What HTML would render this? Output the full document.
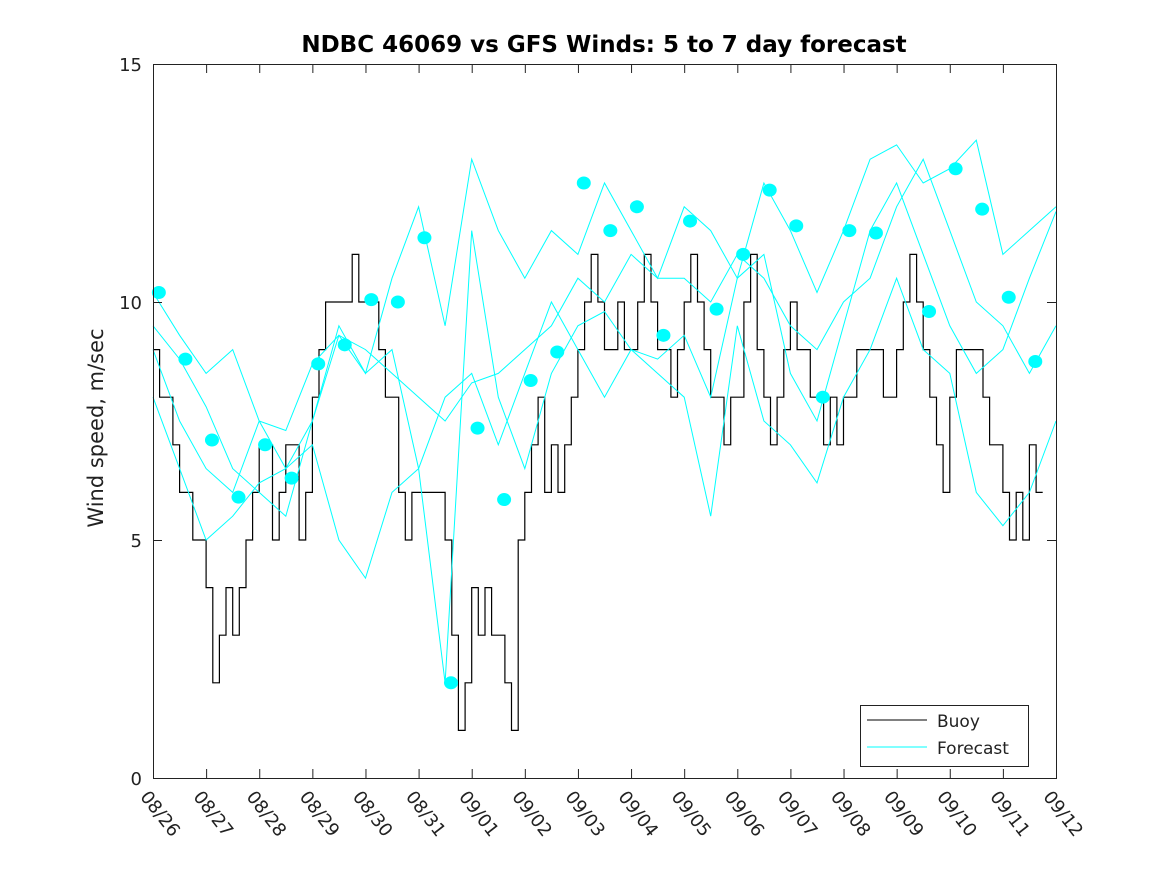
<!DOCTYPE html>
<html><head><meta charset="utf-8">
<style>
html,body{margin:0;padding:0;background:#fff;}
svg{display:block;font-family:"DejaVu Sans","Liberation Sans",sans-serif;}
</style></head>
<body>
<svg id="chart" width="1167" height="875" viewBox="0 0 1167 875">
<rect x="0" y="0" width="1167" height="875" fill="#fff"/>
<text x="604" y="52" text-anchor="middle" font-size="23" font-weight="bold" fill="#000">NDBC 46069 vs GFS Winds: 5 to 7 day forecast</text>
<text transform="translate(103,428) rotate(-90)" text-anchor="middle" font-size="21" fill="#222">Wind speed, m/sec</text>
<g id="plot"></g>
<rect x="153.5" y="64.5" width="903" height="714" fill="none" stroke="#222" stroke-width="1"/>
<g id="axes"></g>
<g>
<rect x="860.5" y="705.5" width="168" height="61" fill="#fff" stroke="#222"/>
<line x1="867" y1="720" x2="927" y2="720" stroke="#000"/>
<text x="937" y="727" font-size="17" fill="#222">Buoy</text>
<line x1="867" y1="747" x2="927" y2="747" stroke="#00ffff"/>
<text x="937" y="754" font-size="17" fill="#222">Forecast</text>
</g>
</svg>
<script>
const dateLabels=["08/26","08/27","08/28","08/29","08/30","08/31","09/01","09/02","09/03","09/04","09/05","09/06","09/07","09/08","09/09","09/10","09/11","09/12"];
const yTicks=[0,5,10,15];
// buoy, 3-hourly from 08/26 00:00
const buoy=[9,8,8,7,6,6,5,5, 4,2,3,4,3,4,5,6, 7,7,5,6,7,7,5,6, 8,9,10,10,10,10,11,10, 10,10,9,8,8,6,5,6,
 6,6,6,6,5,3,1,2, 4,3,4,3,3,2,1,5, 6,7,8,6,7,6,7,8, 9,10,11,10,9,9,10,9, 9,10,11,10,9,9,8,9,
 10,11,10,9,8,8,7,8, 8,10,11,9,8,7,8,9, 10,9,9,8,8,7,8,7, 8,8,9,9,9,9,8,8, 9,10,11,10,9,8,7,6,
 8,9,9,9,9,8,7,7, 6,5,6,5,7,6];
// forecast series, 12-hourly
const fcA=[10.2,9.3,8.5,9.0,7.5,6.5,7.5,9.5,8.5,10.5,12.0,9.5,13.0,11.5,10.5,11.5,11.0,12.5,11.5,10.5,12.0,11.5,10.5,12.5,11.5,10.2,11.5,13.0,13.3,12.5,12.8,13.4,11.0,11.5,12.0];
const fcB=[9.5,8.8,7.8,6.5,6.0,5.5,7.5,9.3,9.0,8.5,8.0,7.5,8.3,8.5,9.0,9.5,10.5,10.0,11.0,10.5,10.5,10.0,11.0,10.5,9.5,9.0,10.0,10.5,12.0,13.0,11.5,10.0,9.5,8.5,9.5];
const fcC=[8.0,6.5,5.0,5.5,6.2,6.5,7.0,5.0,4.2,6.0,6.5,8.0,8.5,7.0,8.5,10.0,9.0,8.0,9.0,8.5,8.0,5.5,9.5,7.5,7.0,6.2,8.0,9.0,10.5,9.0,8.5,6.0,5.3,6.0,7.5];
const fcD=[9.0,7.5,6.5,6.0,7.5,7.3,8.7,9.3,8.5,9.0,6.5,2.0,11.5,8.0,6.5,8.5,9.5,9.8,9.0,8.8,9.3,8.0,10.5,11.0,8.5,7.5,9.5,11.5,12.5,11.0,9.5,8.5,9.0,10.5,11.9];
// forecast start markers, every 12h from 08/26 02:40
const dotVals=[10.2,8.8,7.1,5.9,7.0,6.3,8.7,9.1,10.05,10.0,11.35,2.0,7.35,5.85,8.35,8.95,12.5,11.5,12.0,9.3,11.7,9.85,11.0,12.35,11.6,8.0,11.5,11.45,null,9.8,12.8,11.95,10.1,8.75];

const X0=153,X1=1056,Y0=778,Y1=64;
const xs=d=>X0+(X1-X0)*d/17;
const ys=v=>Y0-(Y0-Y1)*v/15;
const NS="http://www.w3.org/2000/svg";
const plot=document.getElementById('plot'),axes=document.getElementById('axes');
function mk(t,a,p){const e=document.createElementNS(NS,t);for(const k in a)e.setAttribute(k,a[k]);p.appendChild(e);return e;}

let d="";
buoy.forEach((v,i)=>{const x=xs(i/8),y=ys(v);d+=(i?"H"+x.toFixed(1)+"V"+y.toFixed(1):"M"+x.toFixed(1)+" "+y.toFixed(1));});
d+="H"+xs(buoy.length/8).toFixed(1);
const bl=mk('path',{d:d,fill:'none',stroke:'#000','stroke-width':1.2},plot);



[fcA,fcB,fcC,fcD].forEach((s,si)=>{
 const pts=s.map((v,i)=>xs(i*0.5).toFixed(1)+","+ys(v).toFixed(1)).join(" ");
 const pl=mk('polyline',{points:pts,fill:'none',stroke:'#00ffff','stroke-width':1},plot);
 
 
});
dotVals.forEach((v,i)=>{
 if(v===null)return;
 const c=mk('ellipse',{cx:xs(0.11+i*0.5),cy:ys(v),rx:7,ry:6.5,fill:'#00ffff'},plot);
 
 
});

yTicks.forEach(v=>{
 const y=ys(v)+0.5;
 mk('line',{x1:X0,y1:y,x2:X0+9,y2:y,stroke:'#222'},axes);
 mk('line',{x1:X1-9,y1:y,x2:X1,y2:y,stroke:'#222'},axes);
 const t=mk('text',{x:142,y:ys(v)+7,'text-anchor':'end','font-size':18,fill:'#222'},axes);
 t.textContent=v;
 
 
});
dateLabels.forEach((lab,i)=>{
 const x=xs(i)+0.5;
 mk('line',{x1:x,y1:Y0,x2:x,y2:Y0-9,stroke:'#222'},axes);
 mk('line',{x1:x,y1:Y1,x2:x,y2:Y1+9,stroke:'#222'},axes);
 const t=mk('text',{transform:`translate(${x-14},${Y0+19}) rotate(52)`,'font-size':18,fill:'#222'},axes);
 t.textContent=lab;
 
 
});
</script>
</body></html>
